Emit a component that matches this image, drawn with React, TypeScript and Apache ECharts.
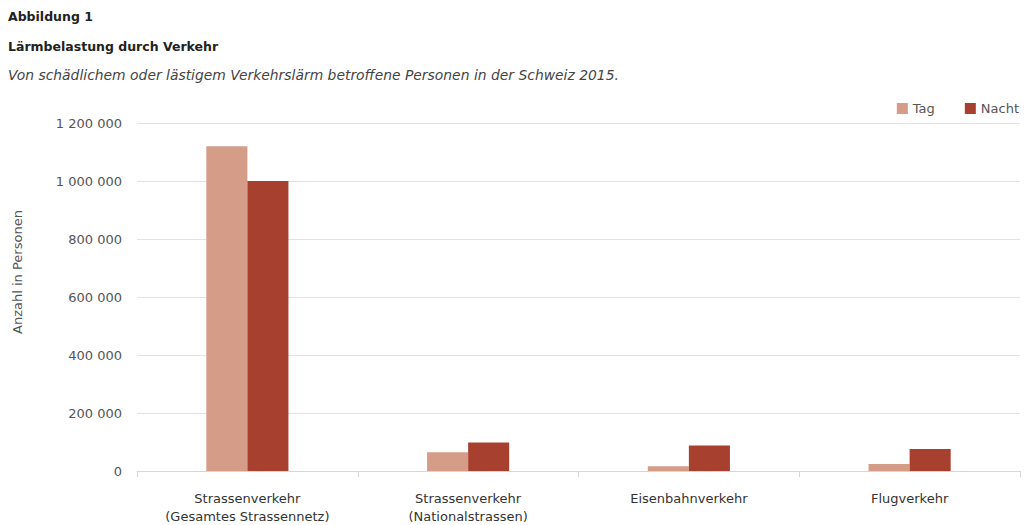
import React, { useEffect, useRef } from "react";
import * as echarts from "echarts";

const categories = [
  "Strassenverkehr\n(Gesamtes Strassennetz)",
  "Strassenverkehr\n(Nationalstrassen)",
  "Eisenbahnverkehr",
  "Flugverkehr",
];
const tagValues = [1120000, 65000, 16000, 24000];
const nachtValues = [1000000, 98000, 88000, 76000];
const seriesNames = ["Tag", "Nacht"];

const FONT = "'DejaVu Sans', sans-serif";

function fmt(v: number): string {
  return String(v).replace(/\B(?=(\d{3})+(?!\d))/g, " ");
}

export default function App() {
  const ref = useRef<HTMLDivElement>(null);
  useEffect(() => {
    if (!ref.current) return;
    const chart = echarts.init(ref.current, null, { renderer: "svg" });
    chart.setOption({
      animation: false,
      textStyle: { fontFamily: FONT },
      graphic: [
        {
          type: "text",
          left: 8,
          top: 10,
          style: { text: "Abbildung 1", fontFamily: FONT, fontSize: 12.5, fontWeight: "bold", fill: "#222" },
        },
        {
          type: "text",
          left: 8,
          top: 40,
          style: { text: "Lärmbelastung durch Verkehr", fontFamily: FONT, fontSize: 12.5, fontWeight: "bold", fill: "#222" },
        },
        {
          type: "text",
          left: 8,
          top: 68,
          style: {
            text: "Von schädlichem oder lästigem Verkehrslärm betroffene Personen in der Schweiz 2015.",
            fontFamily: FONT,
            fontSize: 13.9,
            fontStyle: "italic",
            fill: "#444",
          },
        },
        {
          type: "text",
          x: 17,
          y: 272,
          rotation: Math.PI / 2,
          style: {
            text: "Anzahl in Personen",
            fontFamily: FONT,
            fontSize: 13,
            fill: "#555",
            align: "center",
            verticalAlign: "middle",
          },
        },
      ],
      legend: {
        data: seriesNames,
        right: 0,
        top: 97,
        itemWidth: 11,
        itemHeight: 11,
        itemGap: 30,
        icon: "rect",
        textStyle: { fontFamily: FONT, fontSize: 13, color: "#555" },
      },
      grid: { left: 137, right: 4, top: 123, bottom: 54 },
      xAxis: {
        type: "category",
        data: categories,
        axisLine: { lineStyle: { color: "#d6d6d6" } },
        axisTick: { show: true, length: 6, lineStyle: { color: "#d6d6d6" } },
        axisLabel: { fontFamily: FONT, fontSize: 13, color: "#333", margin: 18, lineHeight: 18 },
      },
      yAxis: {
        type: "value",
        min: 0,
        max: 1200000,
        interval: 200000,
        axisLine: { show: false },
        axisTick: { show: false },
        splitLine: { lineStyle: { color: "#e2e2e2" } },
        axisLabel: {
          fontFamily: FONT,
          fontSize: 13,
          color: "#555",
          margin: 15,
          formatter: (v: number) => fmt(v),
        },
      },
      series: [
        {
          name: "Tag",
          type: "bar",
          data: tagValues,
          barWidth: "18.6%",
          barGap: "0%",
          itemStyle: { color: "#d59c87" },
        },
        {
          name: "Nacht",
          type: "bar",
          data: nachtValues,
          barWidth: "18.6%",
          itemStyle: { color: "#a8402f" },
        },
      ],
    });
    return () => chart.dispose();
  }, []);
  return <div ref={ref} style={{ width: 1024, height: 525, position: "absolute", left: 0, top: 0 }} />;
}
